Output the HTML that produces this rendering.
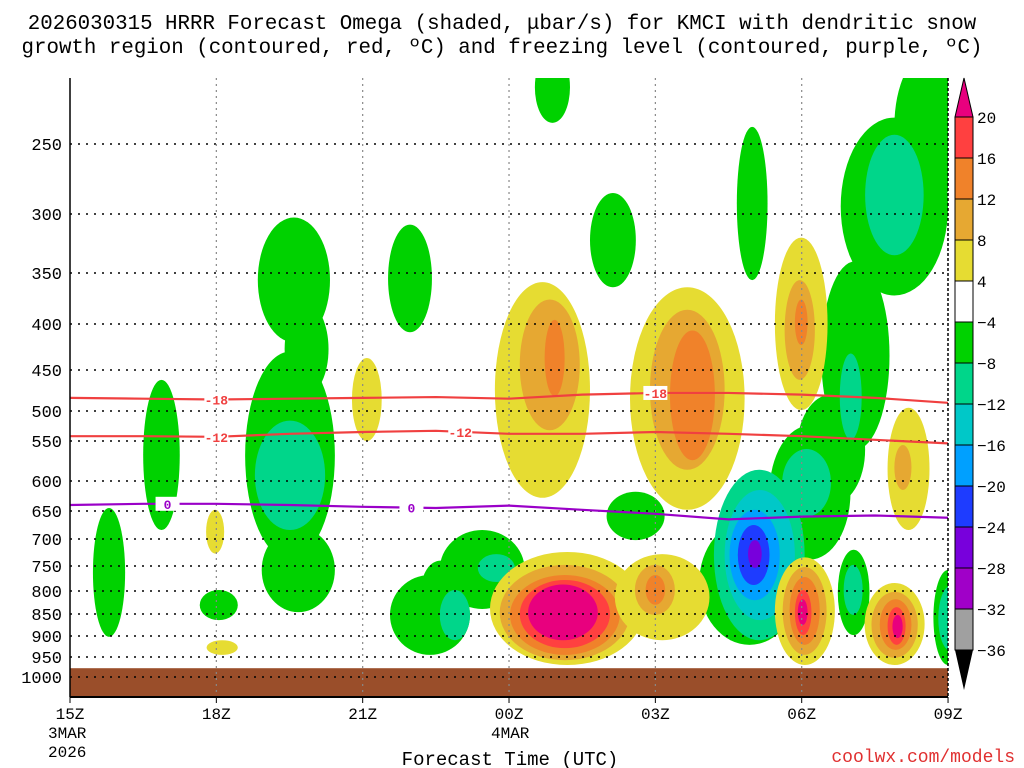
<!DOCTYPE html>
<html><head><meta charset="utf-8">
<style>
body{margin:0;background:#fff;}
svg{display:block;font-family:"Liberation Mono","DejaVu Sans Mono",monospace;}
</style></head>
<body>
<svg id="chart" width="1024" height="768" xmlns="http://www.w3.org/2000/svg">
<text x="502" y="29" font-size="20.8" text-anchor="middle">2026030315 HRRR Forecast Omega (shaded, μbar/s) for KMCI with dendritic snow</text>
<text x="502" y="53" font-size="20.8" text-anchor="middle">growth region (contoured, red, ºC) and freezing level (contoured, purple, ºC)</text>
<defs><clipPath id="pc"><rect x="70" y="78" width="878" height="619"/></clipPath></defs>
<g id="shade" clip-path="url(#pc)"></g>
<g id="grid"></g>
<g id="lines" clip-path="url(#pc)"></g>
<g id="axes"></g>
<g id="cbar"></g>
<text x="510" y="765" font-size="19" text-anchor="middle">Forecast Time (UTC)</text>
<text x="1015" y="762" font-size="18" fill="#e03030" text-anchor="end">coolwx.com/models</text>
</svg>
<script>
const NS="http://www.w3.org/2000/svg";
const pTicks=[200,250,300,350,400,450,500,550,600,650,700,750,800,850,900,950,1000,1025];
const pTickLabels=["250","300","350","400","450","500","550","600","650","700","750","800","850","900","950","1000"];
const pPix=[78,144,214,273,324,370,411,441,481,511,539,566,591,614,636,657,677,697];
const timeLabels=["15Z","18Z","21Z","00Z","03Z","06Z","09Z"];
const cbLabels=["20","16","12","8","4","−4","−8","−12","−16","−20","−24","−28","−32","−36"];
const colors={m:"#e8007e",r:"#ff4040",o:"#f0822a",lo:"#e6a832",y:"#e6dc32",g:"#00d200",t:"#00d68a",c:"#00c8c8",lb:"#00a0ff",b:"#1e3cff",pu:"#7800dc",v:"#a000c8",gr:"#a0a0a0"};
const cbOrder=["r","o","lo","y","w","g","t","c","lb","b","pu","v","gr"];
// blobs: [h0,h1,pTop,pBot,level]
const blobs=[
[0.47,1.13,645,902,"g"],[1.5,2.25,462,684,"g"],
[3.85,5.33,303,420,"g"],[4.4,5.3,380,480,"g"],[3.59,5.43,430,738,"g"],[3.93,5.43,680,846,"g"],[3.79,5.23,516,684,"t"],
[6.52,7.42,309,409,"g"],[2.66,3.44,798,864,"g"],
[6.56,8.2,768,945,"g"],[7.58,9.32,684,839,"g"],[7.2,8.0,740,860,"g"],[7.58,8.2,798,910,"t"],[8.36,9.12,728,782,"t"],
[9.53,10.25,180,234,"g"],[10.66,11.6,285,364,"g"],[11.0,12.19,618,702,"g"],[13.67,14.3,237,357,"g"],
[12.9,14.96,666,921,"g"],[14.34,16.0,524,738,"g"],[15.4,16.8,340,561,"g"],[15.8,18.0,230,372,"g"],[16.9,18.4,180,290,"g"],[14.9,16.3,480,640,"g"],
[16.3,17.5,243,335,"t"],[15.78,16.23,432,548,"t"],[13.2,15.06,586,910,"t"],[14.6,15.6,560,660,"t"],[13.42,14.86,615,864,"c"],
[13.52,14.55,648,820,"lb"],[13.69,14.34,675,788,"b"],[13.9,14.18,702,754,"pu"],
[15.74,16.39,720,898,"g"],[15.86,16.25,748,852,"t"],[17.7,18.3,758,970,"g"],[17.8,18.3,790,935,"t"],
[5.78,6.39,437,550,"y"],[2.79,3.16,648,727,"y"],[2.8,3.44,910,945,"y"],
[8.71,10.66,359,628,"y"],[9.22,10.45,376,532,"lo"],[9.73,10.14,396,482,"o"],
[11.48,13.83,364,648,"y"],[11.89,13.42,386,586,"lo"],[12.3,13.22,407,574,"o"],
[14.45,15.53,320,499,"y"],[14.65,15.27,357,462,"lo"],[14.86,15.12,376,423,"o"],
[16.76,17.62,496,684,"y"],[16.9,17.25,555,615,"lo"],
[8.61,11.78,724,970,"y"],[8.81,11.48,748,958,"lo"],[9.02,11.27,768,945,"o"],[9.22,11.07,778,929,"r"],[9.39,10.82,787,910,"m"],
[11.17,13.11,728,910,"y"],[11.58,12.4,748,852,"lo"],[11.8,12.2,768,830,"o"],
[14.45,15.68,734,970,"y"],[14.61,15.51,752,945,"lo"],[14.75,15.37,772,921,"o"],[14.86,15.2,798,898,"r"],[14.92,15.12,818,875,"m"],
[16.29,17.52,784,970,"y"],[16.43,17.38,802,952,"lo"],[16.6,17.25,818,933,"o"],[16.76,17.13,835,921,"r"],[16.86,17.07,852,905,"m"]
];
const lineHours=[0,1.5,3,4.5,6,7.5,9,10.5,12,13.5,15,16.5,18];
const t18=[484,485,486,485,484,483,485,480,478,478,480,484,490];
const t12=[542,542,543,538,535,533,538,538,535,538,542,548,553];
const t0=[640,638,638,640,643,645,641,648,655,665,660,658,662];

function X(h){return 70+h*48.78;}
function Y(p){for(let i=0;i<pTicks.length-1;i++){if(p<=pTicks[i+1]||i==pTicks.length-2){return pPix[i]+(p-pTicks[i])/(pTicks[i+1]-pTicks[i])*(pPix[i+1]-pPix[i]);}}}
function mk(tag,attrs,parent){const e=document.createElementNS(NS,tag);for(const k in attrs)e.setAttribute(k,attrs[k]);parent.appendChild(e);return e;}
const shade=document.getElementById('shade');
blobs.forEach((b,i)=>{const x0=X(b[0]),x1=X(b[1]),y0=Y(b[2]),y1=Y(b[3]);
const e=mk('ellipse',{cx:(x0+x1)/2,cy:(y0+y1)/2,rx:(x1-x0)/2,ry:(y1-y0)/2,fill:colors[b[4]]},shade);

});
const ground=mk('rect',{x:70,y:Y(978),width:878,height:697-Y(978),fill:"#9a4e2a"},shade);


const grid=document.getElementById('grid');
pTicks.slice(1,17).forEach(p=>{const l=mk('line',{x1:70,x2:948,y1:Y(p),y2:Y(p),stroke:"#000","stroke-width":1.5,"stroke-dasharray":"2,6"},grid);

});
timeLabels.forEach((t,i)=>{if(i>0&&i<6){const l=mk('line',{x1:X(i*3),x2:X(i*3),y1:78,y2:697,stroke:"#888","stroke-width":1.2,"stroke-dasharray":"2,4"},grid);

}});
const lines=document.getElementById('lines');
function drawLine(arr,col,name,labs,txt){const d=arr.map((p,i)=>(i?'L':'M')+X(lineHours[i])+','+Y(p)).join(' ');
const pa=mk('path',{d:d,fill:"none",stroke:col,"stroke-width":2.2},lines);


labs.forEach(h=>{let i=Math.min(Math.floor(h/1.5),11),f=(h-lineHours[i])/1.5,p=arr[i]+(arr[i+1]-arr[i])*f;
const x=X(h),y=Y(p);mk('rect',{x:x-12,y:y-7,width:24,height:14,fill:"#fff"},lines);
const t=mk('text',{x:x,y:y+5,"font-size":13,"font-weight":"bold",fill:col,"text-anchor":"middle"},lines);t.textContent=txt;

});}
drawLine(t18,"#f04040","contour-minus18",[3,12],"-18");
drawLine(t12,"#f04040","contour-minus12",[3,8],"-12");
drawLine(t0,"#9a00c8","freezing-level",[2,7],"0");
const axes=document.getElementById('axes');
mk('line',{x1:70,x2:70,y1:78,y2:697,stroke:"#000","stroke-width":1.5},axes);
mk('line',{x1:948,x2:948,y1:78,y2:697,stroke:"#000","stroke-width":1.5,"stroke-dasharray":"3,2"},axes);
mk('line',{x1:70,x2:948,y1:697,y2:697,stroke:"#000","stroke-width":2},axes);
pTickLabels.forEach((s,i)=>{const t=mk('text',{x:62,y:Y(pTicks[i+1])+6,"font-size":17,"text-anchor":"end"},axes);t.textContent=s;

});
timeLabels.forEach((s,i)=>{const x=X(i*3);mk('line',{x1:x,x2:x,y1:697,y2:703,stroke:"#000"},axes);
const t=mk('text',{x:x,y:719,"font-size":16,"text-anchor":"middle"},axes);t.textContent=s;

});
[["3MAR",48,738],["2026",48,757],["4MAR",491,738]].forEach(a=>{const t=mk('text',{x:a[1],y:a[2],"font-size":16},axes);t.textContent=a[0];

});
const cb=document.getElementById('cbar');
const tri1=mk('polygon',{points:"955,117 973,117 964,78",fill:colors.m,stroke:"#000"},cb);


cbOrder.forEach((k,i)=>{const r=mk('rect',{x:955,y:117+i*41,width:18,height:41,fill:k=="w"?"#fff":colors[k],stroke:"#000"},cb);

});
const tri2=mk('polygon',{points:"955,650 973,650 964,690",fill:"#000"},cb);


cbLabels.forEach((s,i)=>{const t=mk('text',{x:977,y:117+i*41+6,"font-size":16},cb);t.textContent=s;

});
</script>
</body></html>
